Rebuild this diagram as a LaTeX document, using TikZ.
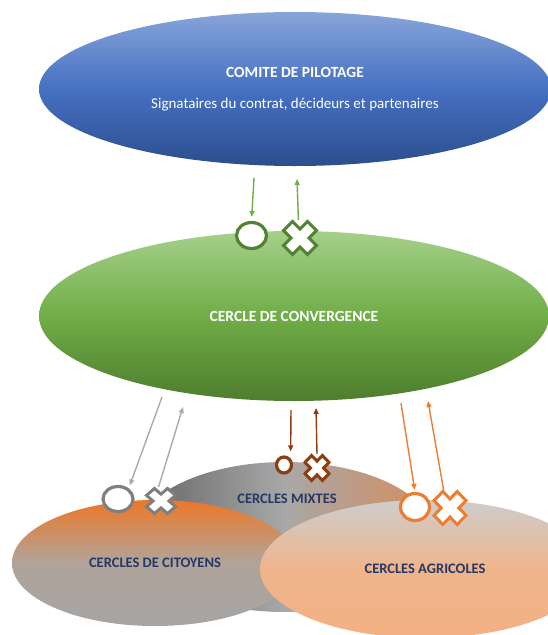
\documentclass[tikz,border=0pt]{standalone}
\usepackage{fontspec}
\setmainfont{Carlito}
\usepackage{tikz}
\usetikzlibrary{shapes.geometric, arrows.meta}

\definecolor{bluetop}{RGB}{136,165,218}
\definecolor{bluemid}{RGB}{70,112,194}
\definecolor{bluebot}{RGB}{44,78,142}
\definecolor{grntop}{RGB}{165,208,138}
\definecolor{grnmid}{RGB}{112,173,71}
\definecolor{grnbot}{RGB}{78,125,46}
\definecolor{grnline}{RGB}{84,130,53}
\definecolor{grnarrow}{RGB}{112,173,71}
\definecolor{gryline}{RGB}{127,127,127}
\definecolor{gryarrow}{RGB}{170,170,170}
\definecolor{brnline}{RGB}{140,62,18}
\definecolor{orgline}{RGB}{237,125,49}
\definecolor{navy}{RGB}{38,56,100}

\tikzset{
  xsym/.pic={
    \path[pic actions] (0,0.55) -- (0.45,1) -- (1,0.45) -- (0.55,0)
      -- (1,-0.45) -- (0.45,-1) -- (0,-0.55) -- (-0.45,-1) -- (-1,-0.45)
      -- (-0.55,0) -- (-1,0.45) -- (-0.45,1) -- cycle;
  }
}

\begin{document}
\begin{tikzpicture}[x=1pt, y=-1pt,
    >={Triangle[length=6pt, width=5pt]},
    bigcircle/.style={ellipse, inner sep=0pt},
    sym/.style={ellipse, draw, fill=white, line width=3.2pt, inner sep=0pt},
    spot/.style={circle, inner sep=0pt},
    lbl/.style={font=\bfseries\fontsize{14.5}{16}\selectfont, text=navy},
    flow/.style={->, line width=1.4pt}]

    \clip (0,0) rectangle (548,635);

    % comite and convergence
    \node[bigcircle, minimum width=512, minimum height=154, top color=bluetop,
        bottom color=bluebot, middle color=bluemid, text=white, align=center]
        at (295,89) (CP) {{\bfseries\fontsize{15.5}{17}\selectfont COMITE DE PILOTAGE}\\[19pt]
        {\fontsize{15}{17}\selectfont Signataires du contrat, décideurs et partenaires}};
    \node[bigcircle, minimum width=510, minimum height=170, top color=grntop,
        bottom color=grnbot, middle color=grnmid, text=white,
        font=\bfseries\fontsize{15.5}{17}\selectfont]
        at (294,316) (CC) {CERCLE DE CONVERGENCE};

    % the three circles
    \node[bigcircle, minimum width=300, minimum height=150, left color={rgb,255:red,100;green,100;blue,100},
        right color={rgb,255:red,214;green,140;blue,92}, middle color={rgb,255:red,168;green,168;blue,168}]
        at (285,537) (CM) {};
    \node[lbl] at (287,499) (CMt) {CERCLES MIXTES};
    \node[bigcircle, lbl, minimum width=286, minimum height=126, top color={rgb,255:red,236;green,120;blue,40},
        bottom color={rgb,255:red,165;green,165;blue,165}, middle color={rgb,255:red,176;green,164;blue,155}]
        at (155,563) (CI) {CERCLES DE CITOYENS};
    \node[bigcircle, lbl, minimum width=330, minimum height=138, top color={rgb,255:red,205;green,205;blue,205},
        bottom color={rgb,255:red,244;green,177;blue,131}, middle color={rgb,255:red,240;green,180;blue,140}]
        at (425,569) (CA) {CERCLES AGRICOLES};

    % symbols
    \node[sym, draw=grnline, minimum width=30, minimum height=26] at (251.5,235.5) (o1) {};
    \node[spot, minimum size=36] at (300,238) (x1) {};
    \pic[draw=grnline, fill=white, line width=3pt, xscale=16.5, yscale=16.5] at (x1) {xsym};

    \node[sym, draw=gryline, minimum width=30, minimum height=25] at (118,499) (o2) {};
    \node[spot, minimum size=28] at (161,501) (x2) {};
    \pic[draw=gryline, fill=white, line width=3pt, xscale=14.5, yscale=12.5] at (x2) {xsym};

    \node[sym, draw=brnline, minimum width=15, minimum height=16] at (284,465) (o3) {};
    \node[spot, minimum size=28] at (317,468) (x3) {};
    \pic[draw=brnline, fill=white, line width=3pt, xscale=12, yscale=12.5] at (x3) {xsym};

    \node[sym, draw=orgline, minimum width=29, minimum height=27] at (415,507) (o4) {};
    \node[spot, minimum size=36] at (450,508) (x4) {};
    \pic[draw=orgline, fill=white, line width=3pt, xscale=16, yscale=16.5] at (x4) {xsym};

    % arrows
    \coordinate (g1) at (254,178);
    \coordinate (g2) at (297,179);
    \coordinate (a1) at (162,397);
    \coordinate (a2) at (183,407);
    \coordinate (a3) at (291,410);
    \coordinate (a4) at (316,408);
    \coordinate (a5) at (401,403);
    \coordinate (a6) at (428,401);

    \draw[flow, grnarrow, shorten >=4pt] (g1) -- (o1.north);
    \draw[flow, grnarrow] (x1.95) -- (g2);
    \draw[flow, gryarrow, shorten >=3pt] (a1) -- (o2.45);
    \draw[flow, gryarrow] (x2.100) -- (a2);
    \draw[flow, brnline, shorten >=7pt] (a3) -- (o3.45);
    \draw[flow, brnline] (x3.north) -- (a4);
    \draw[flow, orgline, shorten >=2pt] (a5) -- (o4.north);
    \draw[flow, orgline] (x4.110) -- (a6);
\end{tikzpicture}
\end{document}
